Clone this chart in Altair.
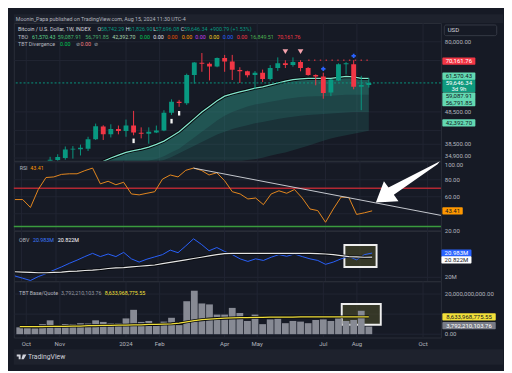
import altair as alt
import pandas as pd

FONT = "Roboto"
BG = "#161a25"
FRAME = "#1e222d"
GRID = "#212533"
SEP = "#2a2e39"
LBL = "#b2b5be"
TXT = "#d1d4dc"
UP = "#089981"
DOWN = "#f23645"
W = 440
H_PRICE, H_RSI, H_OBV, H_VOL = 142, 72, 52, 58
FULL_W = 504
LEG = 5.5   # legend font size
AX = 6.2    # axis / tag font size

# ---------------- data ----------------
# weekly candles (BTCUSD INDEX), weeks starting 2023-10-23
candle_start = "2023-10-23"
c_open = [30000, 34430, 34900, 37060, 37150, 37300, 39880, 43730, 41330, 42930,
          42300, 44000, 41800, 41520, 41900, 42460, 48220, 52140, 51600, 63170,
          68900, 68430, 67100, 71300, 69440, 65450, 64880, 63130, 64150, 61340,
          66330, 68580, 67800, 69200, 66330, 63170, 62460, 55750, 60700, 68130,
          68130, 58030, 58742.29]
c_high = [35200, 35850, 37900, 38000, 38410, 40620, 44620, 44100, 44400, 44000,
          45920, 48860, 43440, 43440, 44000, 49090, 53050, 52840, 63720, 69200,
          73830, 69040, 71500, 72850, 72850, 66700, 65100, 64900, 65600, 67750,
          71560, 70150, 71560, 70150, 66780, 63430, 64150, 61350, 68580, 69200,
          70161.76, 62740, 61826.90]
c_low = [29800, 34100, 34500, 34750, 35540, 36700, 39700, 39700, 40420, 41330,
         40620, 41050, 40150, 38660, 41700, 42270, 47480, 50300, 51000, 59300,
         64580, 60700, 66700, 64580, 60900, 59610, 62050, 56960, 60010, 60660,
         65010, 66330, 67000, 64800, 62800, 58650, 53300, 54270, 60410, 63400,
         57000, 49090, 57696.08]
c_close = [34500, 35130, 37060, 37300, 37550, 39880, 43810, 41330, 42930, 42300,
           44000, 41900, 41520, 42080, 42460, 48220, 52140, 51700, 63170, 69040,
           68400, 67100, 71300, 69440, 65580, 64880, 63000, 64150, 61340, 66330,
           68580, 67800, 69200, 66330, 63130, 62460, 55500, 61100, 68130, 68580,
           58030, 58742.29, 59646.34]

# TBO band (weeks starting 2023-12-04)
band_start = "2023-12-04"
tbo_upper = [33530, 34100, 34900, 35610, 36340, 36810, 37190, 37700, 38460, 39370,
             40690, 42080, 44100, 46230, 48440, 50420, 52490, 54270, 55190, 55940,
             56680, 57450, 58030, 58810, 59610, 60410, 61020, 61430, 61630, 61630,
             61630, 61630, 62050, 62460, 62250, 61630, 61570.43]
tbo_mid_a = [30740, 31150, 31780, 32210, 32870, 33300, 33750, 34200, 34670, 35370,
             36340, 37320, 38850, 40440, 42080, 43810, 45610, 47160, 48440, 49420,
             50420, 51100, 51620, 52140, 52660, 53190, 53560, 53920, 54090, 54270,
             54270, 54460, 54640, 54820, 54820, 54820, 54820]
tbo_mid_b = [28750, 29330, 29930, 30540, 31150, 31780, 32430, 33090, 33750, 34440,
             35130, 36090, 37070, 38070, 39110, 40170, 41260, 42080, 42940, 43530,
             44110, 44710, 45160, 45610, 46070, 46540, 46850, 47160, 47480, 47640,
             47800, 47960, 48120, 48280, 48440, 48440, 48440]
tbo_lower = [26000, 26500, 27000, 27400, 27800, 28200, 28600, 29000, 29400, 29800,
             30200, 30700, 31200, 31700, 32200, 32700, 33100, 33500, 33800, 34100,
             34400, 34600, 35000, 35450, 35900, 36300, 36900, 37500, 38100, 38800,
             39500, 40100, 40600, 41050, 41500, 41950, 42392.70]

# indicators (weeks starting 2023-09-25)
ind_start = "2023-09-25"
rsi = [56.7, 56.7, 47.4, 68.5, 82.6, 83.3, 86.3, 87.0, 87.0, 90.7,
       93.7, 75.2, 78.2, 74.1, 77.0, 63.3, 62.2, 64.1, 65.9, 80.7,
       85.6, 83.3, 91.1, 93.7, 91.1, 85.6, 88.2, 78.9, 65.9, 63.3,
       57.4, 58.5, 50.7, 63.3, 67.0, 64.1, 68.5, 58.5, 45.6, 43.7,
       30.0, 45.6, 59.6, 59.2, 39.2, 41.1, 43.41]
obv_m = [20.054, 19.962, 19.870, 20.028, 20.146, 20.290, 20.421, 20.566, 20.697, 20.841,
         20.972, 20.841, 20.946, 20.841, 21.012, 20.749, 20.618, 20.736, 20.828, 20.920,
         21.104, 20.999, 21.274, 21.563, 21.340, 21.078, 21.209, 21.051, 20.920, 20.749,
         20.644, 20.749, 20.684, 20.815, 20.920, 20.854, 20.946, 20.841, 20.749, 20.684,
         20.526, 20.618, 20.749, 20.841, 20.710, 20.920, 20.983]
obv_ma_m = [20.224, 20.211, 20.198, 20.185, 20.185, 20.198, 20.211, 20.237, 20.251, 20.277,
            20.290, 20.316, 20.356, 20.382, 20.395, 20.421, 20.448, 20.474, 20.500, 20.552,
            20.605, 20.657, 20.710, 20.763, 20.815, 20.867, 20.920, 20.959, 20.972, 20.972,
            20.972, 20.972, 20.972, 20.972, 20.972, 20.972, 20.972, 20.972, 20.972, 20.959,
            20.946, 20.920, 20.881, 20.841, 20.828, 20.815, 20.822]
vol_bn = [3.41, 3.41, 2.94, 5.00, 6.90, 4.21, 5.00, 5.00, 5.48, 5.32,
          6.90, 6.11, 5.32, 5.32, 7.86, 12.14, 6.11, 6.59, 4.52, 6.27,
          8.17, 4.52, 16.43, 21.67, 15.32, 14.84, 9.76, 9.76, 13.10, 10.56,
          6.59, 9.76, 5.00, 7.38, 7.70, 5.48, 6.59, 6.27, 5.48, 7.06,
          7.38, 6.59, 7.86, 6.59, 7.06, 11.67, 3.79221010376]
vol_ma_bn = [3.73, 3.73, 3.73, 3.73, 3.89, 3.89, 3.89, 4.05, 4.05, 4.21,
             4.21, 4.37, 4.37, 4.52, 4.52, 4.68, 4.68, 4.84, 4.84, 5.00,
             5.16, 5.48, 6.11, 6.75, 7.22, 7.54, 7.80, 7.95, 8.08, 8.20,
             8.30, 8.36, 8.42, 8.46, 8.50, 8.53, 8.56, 8.58, 8.60, 8.61,
             8.62, 8.63, 8.64, 8.64, 8.64, 8.64, 8.63396877555]

# markers and drawings
pill_dates = ["2024-01-08", "2024-02-12", "2024-02-19"]
pill_prices = [39450, 45400, 48030]
tri_dates = ["2024-05-27", "2024-06-10"]
tri_prices = [74580, 74580]
blue_dates = ["2024-07-01", "2024-07-29"]
blue_prices = [65900, 72360]
last_price = 59646.34
swing_high = 70161.76
swing_dates = ["2024-06-17", "2024-08-12"]
rsi_trend_dates = ["2024-03-04", "2024-10-13"]
rsi_trend_vals = [93.7, 38.1]
obv_box = {"d1": "2024-07-18", "d2": "2024-08-16", "lo": 20.42, "hi": 21.31}
vol_box = {"d1": "2024-07-18", "d2": "2024-08-23", "lo": 4.67, "hi": 15.0}

# axis ticks (grid) and the tick labels left visible (others sit under price tags)
month_dates = ["2023-10-01", "2023-11-01", "2024-01-01", "2024-02-01", "2024-04-01",
               "2024-05-01", "2024-07-01", "2024-08-01", "2024-10-01"]
month_labels = ["Oct", "Nov", "2024", "Feb", "Apr", "May", "Jul", "Aug", "Oct"]
price_grid = [34900, 38500, 42500, 48500, 70000, 80000]
price_labels = ["34,900.00", "38,500.00", "48,500.00", "80,000.00"]
price_label_vals = [34900, 38500, 48500, 80000]
rsi_grid = [20, 40, 60, 80, 100]
rsi_labels = ["20.00", "60.00", "80.00", "100.00"]
rsi_label_vals = [20, 60, 80, 100]
obv_grid = [20]
obv_labels = ["20M"]
vol_grid = [0, 10, 20]
vol_labels = ["0.00", "20,000,000,000.00"]
vol_label_vals = [0, 20]

# ---------------- frames ----------------
candles = pd.DataFrame({"date": pd.date_range(candle_start, periods=len(c_open), freq="7D"),
                        "open": c_open, "high": c_high, "low": c_low, "close": c_close})
band = pd.DataFrame({"date": pd.date_range(band_start, periods=len(tbo_upper), freq="7D"),
                     "up": tbo_upper, "ma": tbo_mid_a, "mb": tbo_mid_b, "lo": tbo_lower})
ind = pd.DataFrame({"date": pd.date_range(ind_start, periods=len(rsi), freq="7D"),
                    "rsi": rsi, "obv": obv_m, "obv_ma": obv_ma_m, "vol": vol_bn, "vol_ma": vol_ma_bn})
months = pd.DataFrame({"date": pd.to_datetime(month_dates), "t": month_labels})
one = pd.DataFrame({"k": [0]})

XS = alt.Scale(domain=[alt.DateTime(year=2023, month=9, date=24),
                       alt.DateTime(year=2024, month=10, date=13)])
PS = alt.Scale(type="log", domain=[34200, 91450])
RS = alt.Scale(domain=[20, 102.2])
OS = alt.Scale(domain=[19.84, 21.89])
VS = alt.Scale(domain=[-1.67, 26.4])


def X(field="date"):
    return alt.X(field + ":T", scale=XS, axis=None)


def Y(field, scale):
    return alt.Y(field + ":Q", scale=scale, axis=None)


def guides(scale, grid, label_vals, labels, nudge=None):
    """Grid lines and right-hand tick labels drawn from the panel's own scales."""
    nudge = nudge or {}
    out = [alt.Chart(months).mark_rule(color=GRID, strokeWidth=1).encode(x=X()),
           alt.Chart(pd.DataFrame({"v": grid})).mark_rule(color=GRID, strokeWidth=1).encode(y=Y("v", scale))]
    for v, t in zip(label_vals, labels):
        out.append(alt.Chart(pd.DataFrame({"v": [v]})).mark_text(
            align="left", baseline="middle", font=FONT, fontSize=AX, color=LBL,
            yOffset=nudge.get(v, 0)).encode(x=alt.value(W + 4), y=Y("v", scale), text=alt.value(t)))
    return out


def label(s, x, y, color, size=LEG, weight="normal", align="left"):
    return alt.Chart(one).mark_text(align=align, baseline="middle", font=FONT, fontSize=size,
                                    fontWeight=weight, color=color).encode(
        x=alt.value(x), y=alt.value(y), text=alt.value(s))


def tag(value, lines, bg, fg, scale, x0, w, h=7.5, dy=0.0):
    d = pd.DataFrame({"v": [value]})
    out = [alt.Chart(d).mark_rect(height=h, yOffset=dy, color=bg, cornerRadius=1).encode(
        x=alt.value(x0), x2=alt.value(x0 + w), y=Y("v", scale))]
    n = len(lines)
    for j, s in enumerate(lines):
        off = dy + (j - (n - 1) / 2) * 6
        out.append(alt.Chart(d).mark_text(yOffset=off, align="center", baseline="middle", font=FONT,
                                          fontSize=AX, color=fg).encode(
            x=alt.value(x0 + w / 2), y=Y("v", scale), text=alt.value(s)))
    return out


# ---------------- price panel ----------------
P = guides(PS, price_grid, price_label_vals, price_labels, nudge={34900: -2})
P.append(alt.Chart(one).mark_rect(color=FRAME).encode(
    x=alt.value(0), x2=alt.value(FULL_W), y=alt.value(-9), y2=alt.value(0)))
P.append(label("Moonin_Papa published on TradingView.com, Aug 15, 2024 11:30 UTC-4", 2, -4.5, LBL))

for f in ["lo", "mb", "ma"]:
    P.append(alt.Chart(band).mark_area(color="#2f9c8a", opacity=0.19, clip=True).encode(
        x=X(), y=Y(f, PS), y2="up:Q"))
P.append(alt.Chart(band).mark_line(color="#07090d", strokeWidth=3.2, clip=True).encode(
    x=X(), y=Y("up", PS)))
P.append(alt.Chart(band).mark_line(color="#84e6cc", strokeWidth=1.3, clip=True).encode(
    x=X(), y=Y("up", PS)))

P.append(alt.Chart(pd.DataFrame({"v": [last_price]})).mark_rule(
    color=UP, strokeWidth=1, strokeDash=[2, 2]).encode(y=Y("v", PS)))
P.append(alt.Chart(pd.DataFrame({"d1": [pd.Timestamp(swing_dates[0])], "d2": [pd.Timestamp(swing_dates[1])],
                                 "v": [swing_high]})).mark_rule(
    color="#b3303b", strokeWidth=1.5, strokeDash=[1.5, 4.5]).encode(
    x=X("d1"), x2="d2:T", y=Y("v", PS)))

cond = alt.condition("datum.close >= datum.open", alt.value(UP), alt.value(DOWN))
P.append(alt.Chart(candles).mark_rule(strokeWidth=1, clip=True).encode(
    x=X(), y=Y("low", PS), y2="high:Q", color=cond))
P.append(alt.Chart(candles).mark_bar(width=5, clip=True).encode(
    x=X(), y=Y("open", PS), y2="close:Q", color=cond))

pill_path = "M-0.5,-1L0.5,-1L0.5,1L-0.5,1Z"
P.append(alt.Chart(pd.DataFrame({"date": pd.to_datetime(pill_dates), "v": pill_prices})).mark_point(
    shape=pill_path, size=22, filled=True, color="#f5f5f5", opacity=1, strokeWidth=0).encode(
    x=X(), y=Y("v", PS)))
P.append(alt.Chart(pd.DataFrame({"date": pd.to_datetime(tri_dates), "v": tri_prices})).mark_point(
    shape="triangle-down", size=34, filled=True, color="#f5a3ad", opacity=1, strokeWidth=0).encode(
    x=X(), y=Y("v", PS)))
P.append(alt.Chart(pd.DataFrame({"date": pd.to_datetime(blue_dates), "v": blue_prices})).mark_point(
    shape="cross", size=20, filled=True, color="#2962ff", opacity=1, strokeWidth=0).encode(
    x=X(), y=Y("v", PS)))

# legend rows
row1 = [("Bitcoin / U.S. Dollar, 1W, INDEX", 4.3, TXT), ("O", 86.3, TXT), ("58,742.29", 89.7, UP),
        ("H", 115.3, TXT), ("61,826.90", 118.7, UP), ("L", 143.7, TXT), ("57,696.08", 146.3, UP),
        ("C", 172, TXT), ("59,646.34", 175.3, UP), ("+900.79 (+1.53%)", 202, UP)]
row2 = [("TBO", 4.3, LBL), ("61,570.43", 18.7, "#5ccf8a"), ("59,087.91", 45.3, "#43b96c"),
        ("56,791.85", 73.7, "#4caf6e"), ("42,392.70", 101.3, "#a9d9b0"),
        ("0.00", 129.7, "#00c853"), ("0.00", 143.7, "#e0e3eb"), ("0.00", 158, "#e65100"),
        ("0.00", 173, "#ff9800"), ("0.00", 187, "#c13ff0"), ("0.00", 201, "#f7d11f"),
        ("0.00", 215.3, "#2962ff"), ("0.00", 229.7, "#f23645"), ("16,849.51", 243.7, "#4caf50"),
        ("70,161.76", 271.3, "#f23645")]
row3 = [("TBT Divergence", 4.3, LBL), ("0.00", 47.7, "#00c853"), ("\u2298", 63.7, LBL),
        ("0.00", 68.7, "#f77c80"), ("\u2298", 83, LBL)]
for row, yy in [(row1, 6.3), (row2, 14), (row3, 21.3)]:
    for s, xx, col in row:
        P.append(label(s, xx, yy, col))

TX = 441.5
P += tag(swing_high, ["70,161.76"], DOWN, "#ffffff", PS, TX, 34, dy=1)
P += tag(61570.43, ["61,570.43"], "#63d9b2", "#131722", PS, TX, 34, dy=-2.3)
P += tag(last_price, ["59,646.34", "3d 9h"], "#0f9a7e", "#ffffff", PS, TX, 34, h=13, dy=3.2)
P += tag(59087.91, ["59,087.91"], "#63d9b2", "#131722", PS, TX, 34, dy=12.3)
P += tag(56791.85, ["56,791.85"], "#63d9b2", "#131722", PS, TX, 34, dy=13.3)
P += tag(42392.70, ["42,392.70"], "#63d9b2", "#131722", PS, TX, 34, dy=-8.1)
P.append(alt.Chart(one).mark_rect(fill=BG, stroke="#363a45", strokeWidth=1, cornerRadius=2).encode(
    x=alt.value(443.5), x2=alt.value(497.5), y=alt.value(2), y2=alt.value(13)))
P.append(label("USD", 447, 7.5, TXT, size=AX))

price = alt.layer(*P).properties(width=W, height=H_PRICE)

# ---------------- RSI panel ----------------
R = guides(RS, rsi_grid, rsi_label_vals, rsi_labels, nudge={100: 2})
R.append(alt.Chart(pd.DataFrame({"v": [70]})).mark_rule(color="#b22833", strokeWidth=1.6).encode(
    y=Y("v", RS)))
R.append(alt.Chart(pd.DataFrame({"v": [25]})).mark_rule(color="#3a9b3e", strokeWidth=1.3).encode(
    y=Y("v", RS)))
R.append(alt.Chart(ind).mark_line(color="#e8891e", strokeWidth=1).encode(x=X(), y=Y("rsi", RS)))
R.append(alt.Chart(pd.DataFrame({"date": pd.to_datetime(rsi_trend_dates), "v": rsi_trend_vals})).mark_line(
    color="#c9ccd3", strokeWidth=1).encode(x=X(), y=Y("v", RS)))
arrow = "M0,0L8.3,-22L13,-15.5L66,-42.5L63.5,-39.5L18.5,-8L23.3,-1.3Z"
R.append(alt.Chart(one).mark_point(shape=arrow, size=4, filled=True, color="#ffffff", opacity=1,
                                   strokeWidth=0).encode(x=alt.value(373), y=alt.value(43)))
R.append(label("RSI", 6, 7, LBL))
R.append(label("43.41", 17, 7, "#ff9800"))
R += tag(43.41, ["43.41"], "#ff9800", "#131722", RS, TX, 21)
rsi_chart = alt.layer(*R).properties(width=W, height=H_RSI)

# ---------------- OBV panel ----------------
O = guides(OS, obv_grid, obv_grid, obv_labels)
O.append(alt.Chart(pd.DataFrame({"d1": [pd.Timestamp(obv_box["d1"])], "d2": [pd.Timestamp(obv_box["d2"])],
                                 "lo": [obv_box["lo"]], "hi": [obv_box["hi"]]})).mark_rect(
    fill="#4b4b2a", fillOpacity=0.6, stroke="#eeeeee", strokeWidth=2).encode(
    x=X("d1"), x2="d2:T", y=Y("lo", OS), y2="hi:Q"))
O.append(alt.Chart(ind).mark_line(color="#2962ff", strokeWidth=1).encode(x=X(), y=Y("obv", OS)))
O.append(alt.Chart(ind).mark_line(color="#07090d", strokeWidth=3).encode(x=X(), y=Y("obv_ma", OS)))
O.append(alt.Chart(ind).mark_line(color="#e6e6e6", strokeWidth=1.2).encode(x=X(), y=Y("obv_ma", OS)))
O.append(label("OBV", 5.3, 10, LBL))
O.append(label("20.983M", 19.7, 10, "#3d7bff"))
O.append(label("20.822M", 45.3, 10, "#ffffff"))
O += tag(20.983, ["20.983M"], "#2962ff", "#ffffff", OS, TX - 1, 31)
O += tag(20.822, ["20.822M"], "#ffffff", "#131722", OS, TX - 1, 31, dy=2.8)
obv_chart = alt.layer(*O).properties(width=W, height=H_OBV)

# ---------------- volume panel ----------------
V = guides(VS, vol_grid, vol_label_vals, vol_labels)
V.append(alt.Chart(months).mark_text(align="center", baseline="middle", font=FONT, fontSize=AX,
                                     color=LBL).encode(x=X(), y=alt.value(H_VOL + 7), text="t:N"))
V.append(alt.Chart(pd.DataFrame({"d1": [pd.Timestamp(vol_box["d1"])], "d2": [pd.Timestamp(vol_box["d2"])],
                                 "lo": [vol_box["lo"]], "hi": [vol_box["hi"]]})).mark_rect(
    fill="#4b4b2a", fillOpacity=0.6, stroke="#eeeeee", strokeWidth=2).encode(
    x=X("d1"), x2="d2:T", y=Y("lo", VS), y2="hi:Q"))
V.append(alt.Chart(ind).mark_bar(width=7, color="#878a94").encode(
    x=X(), y=alt.Y("vol:Q", scale=VS, stack=None, axis=None)))
V.append(alt.Chart(ind).mark_line(color="#07090d", strokeWidth=3).encode(x=X(), y=Y("vol_ma", VS)))
V.append(alt.Chart(ind).mark_line(color="#f2e03a", strokeWidth=1.3).encode(x=X(), y=Y("vol_ma", VS)))
V.append(label("TBT Base/Quote", 5.3, 12, LBL))
V.append(label("3,792,210,103.76", 48.7, 12, "#9598a1"))
V.append(label("8,633,968,775.55", 93.7, 12, "#f2e03a"))
V += tag(8.63396877555, ["8,633,968,775.55"], "#f2e03a", "#131722", VS, TX, 55)
V += tag(3.79221010376, ["3,792,210,103.76"], "#787b86", "#ffffff", VS, TX, 55, dy=-1)
V.append(alt.Chart(one).mark_rect(color=FRAME).encode(
    x=alt.value(0), x2=alt.value(FULL_W), y=alt.value(H_VOL + 12), y2=alt.value(H_VOL + 28)))
logo = "M-5,-2.5L-1,-2.5L-1,2.5L-3,2.5L-3,-0.5L-5,-0.5Z M1.2,-2.5L5,-2.5L2.2,2.5L-0.2,2.5Z"
V.append(alt.Chart(one).mark_point(shape=logo, size=4, filled=True, color=TXT, opacity=1,
                                   strokeWidth=0).encode(x=alt.value(8), y=alt.value(H_VOL + 20)))
V.append(label("TradingView", 14.5, H_VOL + 20, TXT, size=7))
vol_chart = alt.layer(*V).properties(width=W, height=H_VOL)

chart = alt.vconcat(price, rsi_chart, obv_chart, vol_chart, spacing=0, bounds="flush").resolve_scale(
    x="independent", y="independent").properties(padding=0).configure(background=BG).configure_view(
    stroke=SEP, strokeWidth=1)

chart.save("out.html", embed_options={"renderer": "svg", "actions": False})
